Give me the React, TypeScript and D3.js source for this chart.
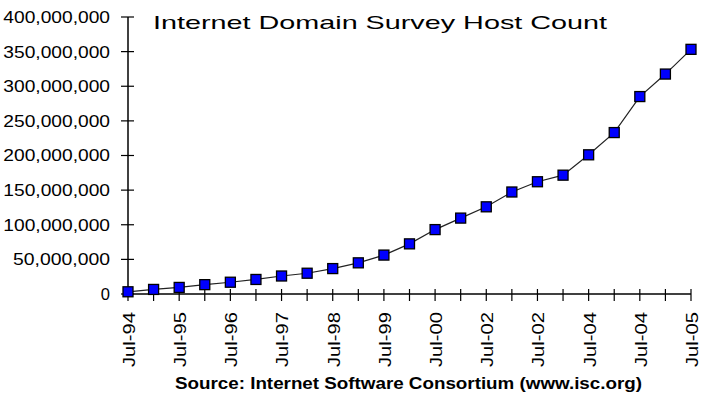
import React from "react";
import * as d3 from "d3";

const periods = [
  "Jul-94", "Jan-95", "Jul-95", "Jan-96", "Jul-96", "Jan-97", "Jul-97", "Jan-98",
  "Jul-98", "Jan-99", "Jul-99", "Jan-00", "Jul-00", "Jan-01", "Jul-01", "Jan-02",
  "Jul-02", "Jan-03", "Jul-03", "Jan-04", "Jul-04", "Jan-05", "Jul-05",
];
const hostCounts = [
  3.2e6, 6.6e6, 9.5e6, 13.5e6, 17.0e6, 21.0e6, 26.0e6, 30.0e6,
  36.7e6, 45.0e6, 56.2e6, 72.4e6, 93.0e6, 109.6e6, 125.9e6, 147.3e6,
  162.1e6, 171.6e6, 201.0e6, 233.1e6, 285.1e6, 317.6e6, 353.3e6,
];
const xTickLabels = [
  "Jul-94", "Jul-95", "Jul-96", "Jul-97", "Jul-98", "Jul-99",
  "Jul-00", "Jul-02", "Jul-02", "Jul-04", "Jul-04", "Jul-05",
];
const yTicks = [0, 50e6, 100e6, 150e6, 200e6, 250e6, 300e6, 350e6, 400e6];
const title = "Internet Domain Survey Host Count";
const source = "Source: Internet Software Consortium (www.isc.org)";

export default function App() {
  const W = 704, H = 395;
  const x = d3.scalePoint<string>().domain(periods).range([128, 691]);
  const y = d3.scaleLinear().domain([0, 400e6]).range([294, 17]);
  const fmt = d3.format(",");
  const line = d3
    .line<number>()
    .x((_, i) => x(periods[i])!)
    .y((d) => y(d));
  const font = "'Liberation Sans', Arial, sans-serif";
  return (
    <div style={{ position: "absolute", left: 0, top: 0 }}>
      <svg width={W} height={H} style={{ display: "block", background: "#fff" }}>
        <text x={153} y={29} fontFamily={font} fontSize={19}
          textLength={454} lengthAdjust="spacingAndGlyphs" fill="#000">{title}</text>
        {/* y axis */}
        <line x1={128} x2={128} y1={y(400e6)} y2={y(0)} stroke="#000" strokeWidth={1.5} />
        {yTicks.map((t) => (
          <g key={t}>
            <line x1={121} x2={134} y1={y(t)} y2={y(t)} stroke="#000" strokeWidth={1.2} />
            <text x={110} y={y(t)} dy="0.36em" textAnchor="end" fontFamily={font}
              fontSize={16.5} fill="#000" textLength={t === 0 ? undefined : String(fmt(t)).length * 9.7}
              lengthAdjust="spacingAndGlyphs">{fmt(t)}</text>
          </g>
        ))}
        {/* x axis */}
        <line x1={128} x2={691} y1={294} y2={294} stroke="#000" strokeWidth={1.5} />
        {periods.map((p) => (
          <line key={p} x1={x(p)} x2={x(p)} y1={289} y2={301} stroke="#000" strokeWidth={1.2} />
        ))}
        {periods.filter((_, i) => i % 2 === 0).map((p, i) => (
          <text key={p + i} transform={`translate(${x(p)! + 1},${312}) rotate(-90)`}
            textAnchor="end" dy="0.36em" fontFamily={font} fontSize={16.5}
            textLength={55} lengthAdjust="spacingAndGlyphs" fill="#000">{xTickLabels[i]}</text>
        ))}
        <path d={line(hostCounts) || ""} fill="none" stroke="#222" strokeWidth={1.2} />
        {hostCounts.map((v, i) => (
          <rect key={i} x={x(periods[i])! - 5} y={y(v) - 5} width={10} height={10}
            fill="#0000ff" stroke="#000" strokeWidth={1.3} />
        ))}
        <text x={175} y={389} fontFamily={font} fontWeight="bold"
          fontSize={16} textLength={467} lengthAdjust="spacingAndGlyphs" fill="#000">{source}</text>
      </svg>
    </div>
  );
}
